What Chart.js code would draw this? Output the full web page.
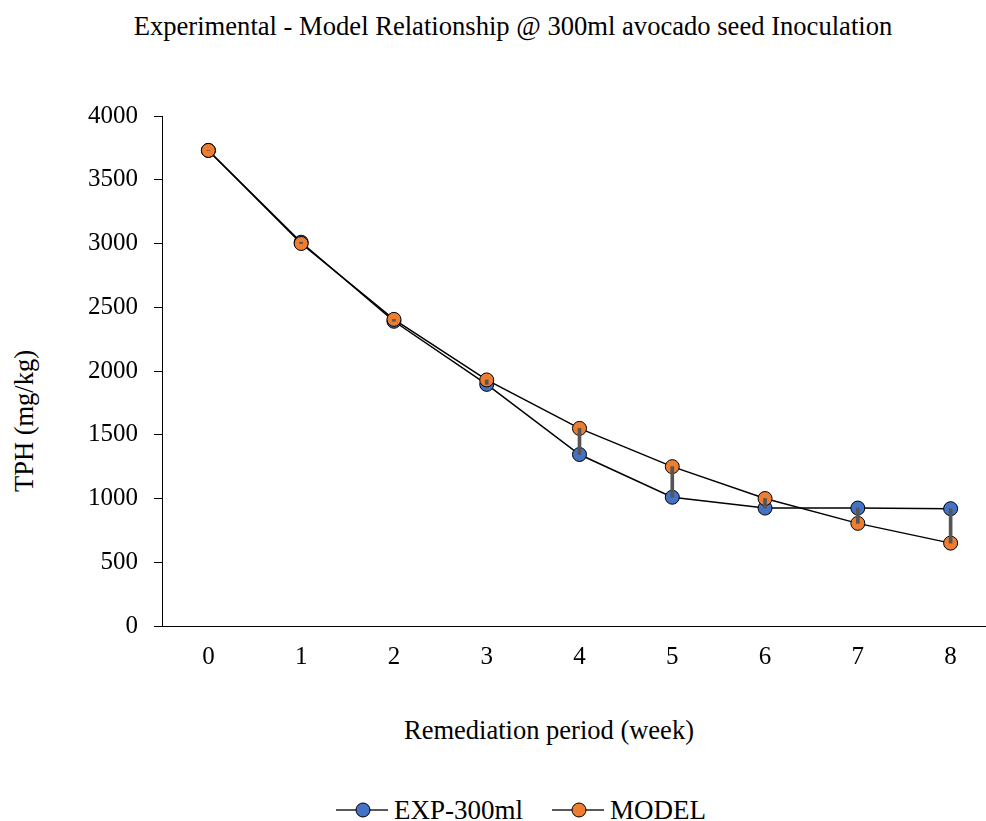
<!DOCTYPE html>
<html>
<head>
<meta charset="utf-8">
<script src="https://cdn.jsdelivr.net/npm/chart.js@4"></script>
<style>
  html, body { margin: 0; padding: 0; background: #fff; overflow: hidden; }
  body { width: 986px; height: 821px; position: relative; font-family: 'Liberation Serif', 'Times New Roman', serif; color: #000; }
  #wrap { position: absolute; left: 0; top: 0; width: 1005px; height: 699px; }
  .title { position: absolute; top: 11px; left: 0; width: 1026px; text-align: center; font-size: 26.6px; line-height: 30px; }
  .xtitle { position: absolute; top: 715px; left: 0; width: 1098px; text-align: center; font-size: 26.5px; line-height: 30px; }
  .ytitle { position: absolute; left: 24px; top: 421px; transform: translate(-50%, -50%) rotate(-90deg); font-size: 26.5px; line-height: 30px; white-space: nowrap; }
  .legend { position: absolute; top: 795px; left: 0; width: 1042px; display: flex; justify-content: center; gap: 29px; font-size: 27px; line-height: 30px; }
  .legend > span { display: inline-flex; align-items: center; gap: 6px; }
</style>
</head>
<body>
<div class="title">Experimental - Model Relationship @ 300ml avocado seed Inoculation</div>
<div class="ytitle">TPH (mg/kg)</div>
<div id="wrap"><canvas id="chart" width="1005" height="699"></canvas></div>
<div class="xtitle">Remediation period (week)</div>
<div class="legend" id="legend"></div>
<script>
// remediation weeks
const weeks = ['0', '1', '2', '3', '4', '5', '6', '7', '8'];
// TPH (mg/kg)
const expValues = [3730, 3010, 2390, 1895, 1345, 1010, 925, 925, 920];
const modelValues = [3730, 3000, 2405, 1930, 1550, 1250, 1000, 805, 650];
const seriesNames = ['EXP-300ml', 'MODEL'];
const seriesColors = ['#4472C4', '#ED7D31'];

const font = { family: "'Liberation Serif', 'Times New Roman', serif", size: 25 };

// html legend (line - marker - line)
const legendEl = document.getElementById('legend');
seriesNames.forEach((name, i) => {
    const item = document.createElement('span');
    item.innerHTML =
        '<svg width="52" height="16"><line x1="0" y1="8" x2="52" y2="8" stroke="#222" stroke-width="1.5"/>' +
        '<circle cx="27" cy="8" r="7" fill="' + seriesColors[i] + '" stroke="#000" stroke-width="1"/></svg>' +
        '<span>' + name + '</span>';
    legendEl.appendChild(item);
});

const lineDataset = (label, data, color, order) => ({
    type: 'line',
    label,
    data,
    borderColor: '#000',
    borderWidth: 1.5,
    backgroundColor: color,
    pointBackgroundColor: color,
    pointBorderColor: '#000',
    pointBorderWidth: 1,
    pointRadius: 7,
    tension: 0,
    order,
});

new Chart(document.getElementById('chart'), {
    data: {
        labels: weeks,
        datasets: [
            lineDataset(seriesNames[0], expValues, seriesColors[0], 2),
            lineDataset(seriesNames[1], modelValues, seriesColors[1], 1),
            {
                // high-low lines between experiment and model
                type: 'bar',
                label: 'drop',
                data: expValues.map((v, i) => [v, modelValues[i]]),
                backgroundColor: '#555555',
                barThickness: 3,
                order: 0,
            },
        ]
    },
    options: {
        responsive: false,
        animation: false,
        layout: { padding: { left: 72, top: 116, right: 4, bottom: 11 } },
        scales: {
            x: {
                offset: true,
                grid: { display: false, drawTicks: false },
                border: { display: true, color: '#000', width: 1 },
                ticks: { color: '#000', font, padding: 16 },
            },
            y: {
                min: 0,
                max: 4000,
                ticks: { stepSize: 500, color: '#000', font, padding: 16, callback: v => String(v) },
                grid: { drawOnChartArea: false, drawTicks: true, tickLength: 8, color: '#000' },
                border: { display: true, color: '#000', width: 1 },
            },
        },
        plugins: {
            legend: { display: false },
            title: { display: false },
            tooltip: { enabled: false },
        }
    }
});
</script>
</body>
</html>
